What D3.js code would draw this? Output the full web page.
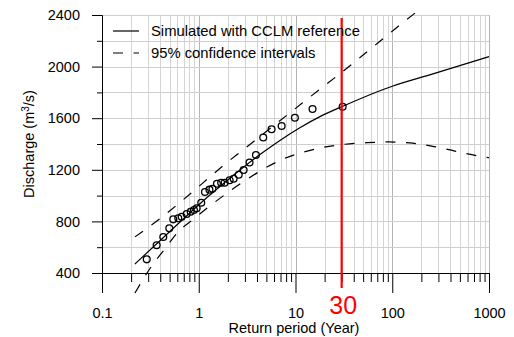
<!DOCTYPE html>
<html>
<head>
<meta charset="utf-8">
<script src="https://cdn.jsdelivr.net/npm/d3@7"></script>
<style>
  body { margin: 0; background: #fff; }
  svg { display: block; }
  text { font-family: "Liberation Sans", Arial, sans-serif; }
</style>
</head>
<body>
<svg id="chart" width="514" height="337"></svg>
<script>
// Axis ticks
const xTickValues = [0.1, 1, 10, 100, 1000];
const xTickLabels = ["0.1", "1", "10", "100", "1000"];
const yTickValues = [400, 800, 1200, 1600, 2000, 2400];
const yMinorValues = [600, 1000, 1400, 1800, 2200];

// Observed annual maxima: return period (years) and discharge (m3/s)
const obsT = [0.290, 0.367, 0.430, 0.496, 0.545, 0.614, 0.666, 0.750, 0.825, 0.892,
              0.952, 1.061, 1.159, 1.290, 1.385, 1.542, 1.704, 1.852, 2.085, 2.294,
              2.589, 2.910, 3.349, 3.90, 4.64, 5.66, 7.19, 9.86, 15.0, 30.7];
const obsQ = [506, 615, 679, 746, 816, 824, 836, 857, 875, 888,
              902, 945, 1028, 1046, 1053, 1092, 1100, 1100, 1119, 1131,
              1162, 1198, 1257, 1315, 1450, 1514, 1540, 1604, 1671, 1689];

// Fitted frequency curve (simulated with CCLM reference)
const fitT = [0.219, 0.397, 0.640, 1.03, 1.656, 2.665, 4.29, 6.9, 11.1, 17.9, 30.0, 100, 244, 1000];
const fitQ = [470, 650, 795, 937, 1070, 1198, 1318, 1428, 1526, 1612, 1689, 1848, 1936, 2077];

// 95% confidence bounds
const upperT = [0.219, 0.414, 0.614, 0.913, 1.327, 1.91, 2.88, 4.47, 6.63, 9.86,
                14.7, 22.3, 33.7, 48.2, 71.4, 106, 164, 196];
const upperQ = [680, 832, 936, 1045, 1150, 1250, 1355, 1468, 1570, 1672,
                1775, 1880, 1985, 2080, 2185, 2290, 2403, 2450];
const lowerT = [0.219, 0.326, 0.437, 0.614, 0.877, 1.327, 2.066, 3.125, 4.72, 7.36,
                12.0, 19.7, 32.4, 54.3, 90.8, 152, 255, 444, 743, 1000];
const lowerQ = [245, 454, 578, 720, 816, 924, 1032, 1124, 1208, 1282,
                1337, 1375, 1398, 1410, 1416, 1408, 1384, 1345, 1310, 1294];

// Highlighted return period
const markerT = 30;
const markerLabel = "30";

const legendLabels = ["Simulated with CCLM reference", "95% confidence intervals"];

const svg = d3.select("#chart");
const x = d3.scaleLog().domain([0.1, 1000]).range([102, 489]);
const y = d3.scaleLinear().domain([400, 2400]).range([273, 15]);
const snap = v => Math.round(v) + 0.5;
const dash = "10,10.5";

// Grid
const grid = svg.append("g");
x.ticks().forEach(t => {
  const major = xTickValues.includes(t);
  grid.append("line")
    .attr("x1", snap(x(t))).attr("x2", snap(x(t)))
    .attr("y1", y(2400)).attr("y2", y(400))
    .attr("stroke", major ? "#b4b4b4" : "#d4d4d4").attr("stroke-width", 1);
});
d3.range(400, 2401, 200).forEach(v => {
  grid.append("line")
    .attr("x1", x(0.1)).attr("x2", x(1000))
    .attr("y1", snap(y(v))).attr("y2", snap(y(v)))
    .attr("stroke", "#cfcfcf").attr("stroke-width", 1);
});

// Axes
const fontSize = "14.5px";
const xMajor = svg.append("g").attr("transform", `translate(0,${y(400)})`)
  .call(d3.axisBottom(x).tickValues(xTickValues).tickFormat((d, i) => xTickLabels[i])
    .tickSize(20).tickSizeOuter(0).tickPadding(15));
const xMinor = svg.append("g").attr("transform", `translate(0,${y(400)})`)
  .call(d3.axisBottom(x).tickValues(x.ticks().filter(t => !xTickValues.includes(t)))
    .tickFormat("").tickSize(9).tickSizeOuter(0));
const yMajor = svg.append("g").attr("transform", `translate(${x(0.1)},0)`)
  .call(d3.axisLeft(y).tickValues(yTickValues).tickFormat(d3.format("d"))
    .tickSize(10).tickSizeOuter(0).tickPadding(12));
const yMinor = svg.append("g").attr("transform", `translate(${x(0.1)},0)`)
  .call(d3.axisLeft(y).tickValues(yMinorValues).tickFormat("")
    .tickSize(5).tickSizeOuter(0));
[xMajor, xMinor, yMajor, yMinor].forEach(g => {
  g.selectAll("path,line").attr("stroke", "#000").attr("stroke-width", 1);
  g.selectAll("text").attr("font-size", fontSize).attr("fill", "#000")
    .style("font-family", '"Liberation Sans", Arial, sans-serif');
});

// Axis titles
svg.append("text")
  .attr("x", 294).attr("y", 333)
  .attr("text-anchor", "middle").attr("font-size", fontSize)
  .text("Return period (Year)");
const yTitle = svg.append("text")
  .attr("transform", "translate(33.5,144) rotate(-90)")
  .attr("text-anchor", "middle").attr("font-size", fontSize);
yTitle.append("tspan").text("Discharge (m");
yTitle.append("tspan").attr("font-size", "10px").attr("dy", "-5").text("3");
yTitle.append("tspan").attr("dy", "5").text("/s)");

// Curves
const line = d3.line().x(d => x(d[0])).y(d => y(d[1])).curve(d3.curveMonotoneX);
svg.append("path").datum(fitT.map((t, i) => [t, fitQ[i]]))
  .attr("d", line).attr("fill", "none").attr("stroke", "#000").attr("stroke-width", 1.2);
[[upperT, upperQ], [lowerT, lowerQ]].forEach(([ts, qs]) => {
  svg.append("path").datum(ts.map((t, i) => [t, qs[i]]))
    .attr("d", line).attr("fill", "none").attr("stroke", "#000")
    .attr("stroke-width", 1.2).attr("stroke-dasharray", dash);
});

// Observations
svg.append("g").selectAll("circle")
  .data(obsT.map((t, i) => [t, obsQ[i]]))
  .join("circle")
  .attr("cx", d => x(d[0])).attr("cy", d => y(d[1])).attr("r", 3.4)
  .attr("fill", "none").attr("stroke", "#000").attr("stroke-width", 1.3);

// Return period marker
svg.append("line")
  .attr("x1", x(markerT)).attr("x2", x(markerT))
  .attr("y1", 18).attr("y2", 288)
  .attr("stroke", "#ff0000").attr("stroke-width", 2.2);
svg.append("text")
  .attr("x", x(markerT) + 1.5).attr("y", 314)
  .attr("text-anchor", "middle").attr("font-size", "25px").attr("fill", "#ff0000")
  .text(markerLabel);

// Legend
const legend = svg.append("g");
legendLabels.forEach((lab, i) => {
  const ly = 31 + i * 22;
  legend.append("line")
    .attr("x1", 113).attr("x2", 139).attr("y1", ly).attr("y2", ly)
    .attr("stroke", "#000").attr("stroke-width", 1.2)
    .attr("stroke-dasharray", i === 0 ? null : dash);
  legend.append("text")
    .attr("x", 151).attr("y", ly + 5.3).attr("font-size", "14.8px")
    .text(lab);
});
</script>
</body>
</html>
